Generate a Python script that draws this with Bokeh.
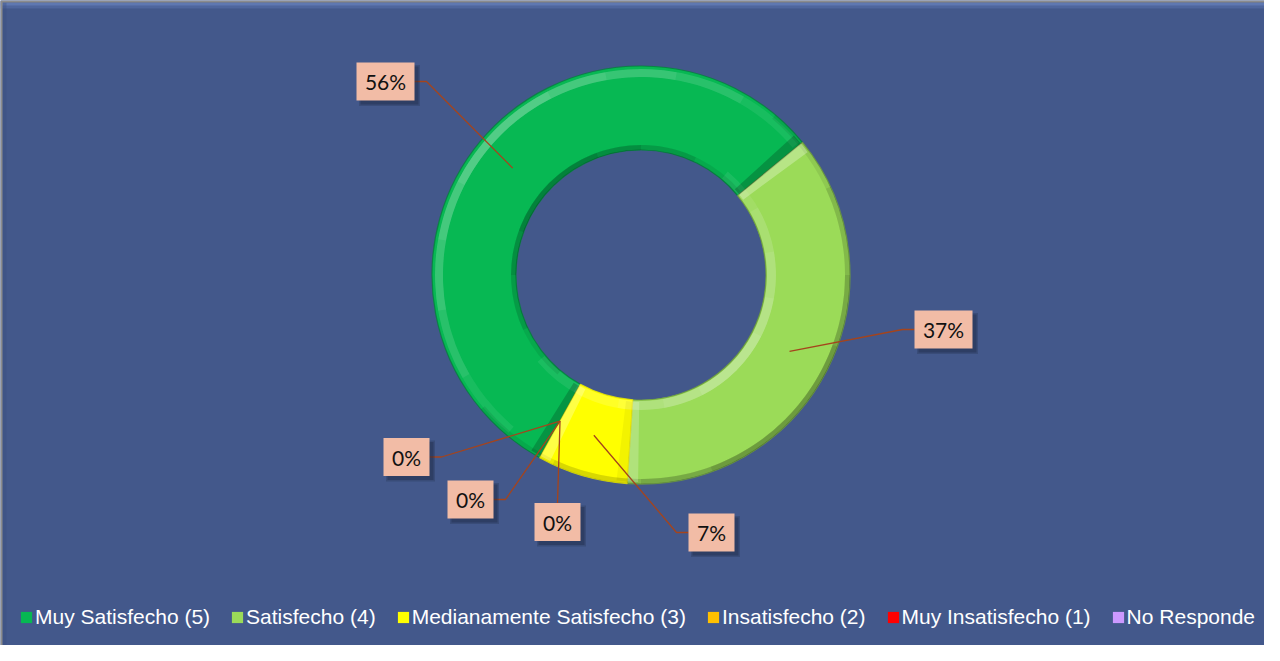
import numpy as np
from bokeh.plotting import figure
from bokeh.models import Range1d, ColumnDataSource, Legend, LegendItem
from bokeh.embed import file_html
from bokeh.resources import INLINE
from bokeh.core.properties import value

# ---------------- data ----------------
categories = ["Muy Satisfecho (5)", "Satisfecho (4)", "Medianamente Satisfecho (3)",
              "Insatisfecho (2)", "Muy Insatisfecho (1)", "No Responde"]
percent = [56, 37, 7, 0, 0, 0]
colors = ["#07B853", "#9BDB58", "#FFFF00", "#FFC000", "#FF0000", "#CC99FF"]
edge_colors = ["#067F3D", "#6E9E3C", "#E8E800", "#C09000", "#B00000", "#9A70CC"]

# ---------------- layout (screen pixels) ----------------
W, H = 1264, 645
BG = "#43588B"
CX, CY = 648.5, 282.5          # donut centre (screen)
R_OUT, R_IN = 209, 125
FIRST_ANGLE = 209.0            # first slice angle, clockwise from 12 o'clock

# label boxes: centre (screen), leader side
label_pos = [(393, 89, "r"), (951, 337, "l"), (719, 540, "l"),
             (414, 464.5, "r"), (478, 507, "r"), (565, 529.5, "t")]
BOX_H = 38
ELBOW = 12


def Y(sy):
    return 661 - sy


p = figure(width=W, height=H, x_range=Range1d(8, 8 + W), y_range=Range1d(661 - 8 - H, 661 - 8),
           output_backend="svg", toolbar_location=None, min_border=0,
           x_axis_type=None, y_axis_type=None,
           background_fill_color=BG, border_fill_color=BG, outline_line_color=None)
p.grid.visible = False

# ---- frame bevel / border ----
p.quad(left=[8], right=[8 + W], bottom=[Y(16)], top=[Y(10)], fill_color="#5A73AD", fill_alpha=0.55, line_color=None)
p.quad(left=[8], right=[8 + W], bottom=[Y(13)], top=[Y(10)], fill_color="#6A84BE", fill_alpha=0.6, line_color=None)
p.quad(left=[10], right=[14], bottom=[Y(653)], top=[Y(10)], fill_color="#3A4E7E", fill_alpha=0.35, line_color=None)
p.segment(x0=[9, 8], y0=[Y(653), Y(9)], x1=[9, 8 + W], y1=[Y(9), Y(9)], line_color="#8C8C8C", line_width=2)

# ---------------- slices ----------------
vals = np.array(percent, dtype=float)
frac = vals / vals.sum()
start_cw = FIRST_ANGLE + 360 * np.concatenate([[0], np.cumsum(frac)[:-1]])
end_cw = start_cw + 360 * frac
mid_cw = (start_cw + end_cw) / 2

nz = [i for i in range(len(vals)) if vals[i] > 0]
wsrc = ColumnDataSource(dict(
    start=[np.radians(90 - end_cw[i]) for i in nz],
    end=[np.radians(90 - start_cw[i]) for i in nz],
    color=[colors[i] for i in nz],
    edge=[edge_colors[i] for i in nz],
))
p.annular_wedge(x=CX, y=Y(CY), inner_radius=R_IN, outer_radius=R_OUT,
                start_angle="start", end_angle="end", source=wsrc,
                fill_color="color", line_color="edge", line_width=1.2, line_alpha=0.8)

# ---- bevel lighting (light from upper-left) ----
LIGHT = np.array([-0.7071, 0.7071])


def rim(r0, r1, centre_deg, spans, color, alpha):
    s = [np.radians(centre_deg - h) for h in spans]
    e = [np.radians(centre_deg + h) for h in spans]
    p.annular_wedge(x=CX, y=Y(CY), inner_radius=r0, outer_radius=r1,
                    start_angle=s, end_angle=e, fill_color=color, fill_alpha=alpha, line_color=None)


rim(198, 206, 135, [95, 75, 55, 35, 18], "white", 0.07)
rim(204, 209, -45, [95, 70, 45, 25], "black", 0.08)
rim(126, 135, -45, [95, 75, 55, 35, 18], "white", 0.08)
rim(125, 130, 135, [95, 70, 45, 25], "black", 0.08)

# radial edge bevels of every slice
ew = 3.0
es, ee, ec, ea = [], [], [], []
for i in nz:
    for th, sgn in ((start_cw[i], -1), (end_cw[i], 1)):
        t = np.radians(th)
        tang = sgn * np.array([np.cos(t), -np.sin(t)])   # outward normal of the edge face
        d = float(tang @ LIGHT)
        if sgn < 0:
            a0, a1 = th, th + ew
        else:
            a0, a1 = th - ew, th
        es.append(np.radians(90 - a1)); ee.append(np.radians(90 - a0))
        ec.append("white" if d > 0 else "black")
        ea.append(0.28 * abs(d) if d > 0 else 0.2 * abs(d) * (0.3 if colors[i] == "#FFFF00" else 1))
p.annular_wedge(x=CX, y=Y(CY), inner_radius=R_IN + 2, outer_radius=R_OUT - 2,
                start_angle=es, end_angle=ee, fill_color=ec, fill_alpha=ea, line_color=None)

# ---------------- labels ----------------
r_mid = (R_IN + R_OUT) / 2
ax = CX + r_mid * np.sin(np.radians(mid_cw))
ay = CY - r_mid * np.cos(np.radians(mid_cw))
texts = ["%d%%" % v for v in percent]

xs, ys = [], []
bx, by, bw = [], [], []
for i, (lx, ly, side) in enumerate(label_pos):
    w = 22 + 12 * len(texts[i])
    bx.append(lx); by.append(Y(ly)); bw.append(w)
    if side == "r":
        ex = lx + w / 2
        xs.append([ax[i], ex + ELBOW, ex]); ys.append([Y(ay[i]), Y(ly), Y(ly)])
    elif side == "l":
        ex = lx - w / 2
        xs.append([ax[i], ex - ELBOW, ex]); ys.append([Y(ay[i]), Y(ly), Y(ly)])
    else:
        xs.append([ax[i], lx]); ys.append([Y(ay[i]), Y(ly - BOX_H / 2)])

p.multi_line(xs=xs, ys=ys, line_color="#A5441C", line_width=1.3)

lsrc = ColumnDataSource(dict(x=bx, y=by, w=bw, t=texts,
                             sx=[v + 4 for v in bx], sy=[v - 4 for v in by],
                             sw=[v + 3 for v in bw]))
p.rect(x="sx", y="sy", width="sw", height=BOX_H + 3, source=lsrc, fill_color="#1B2640", fill_alpha=0.25, line_color=None)
p.rect(x="sx", y="sy", width="w", height=BOX_H, source=lsrc, fill_color="#1B2640", fill_alpha=0.35, line_color=None)
p.rect(x="x", y="y", width="w", height=BOX_H, source=lsrc, fill_color="#F2BCA6", line_color=None)
p.text(x="x", y="y", text="t", source=lsrc, text_align="center", text_baseline="middle",
       text_font=value("Lato"), text_font_size="21px", text_color="#111111")

# ---------------- legend ----------------
proxy = ColumnDataSource(dict(l=[np.nan] * 6, r=[np.nan] * 6, b=[np.nan] * 6, t=[np.nan] * 6, c=colors))
pr = p.quad(left="l", right="r", bottom="b", top="t", fill_color="c", line_color=None, source=proxy)
items = [LegendItem(label=categories[i], renderers=[pr], index=i) for i in range(6)]
legend = Legend(items=items, orientation="horizontal", location=(19, 16),
                glyph_width=14, glyph_height=14, label_standoff=2, spacing=20,
                padding=0, margin=0, background_fill_alpha=0, border_line_color=None,
                label_text_font="Liberation Sans", label_text_font_size="21px",
                label_text_color="white")
p.add_layout(legend)

open("out.html", "w").write(file_html(p, INLINE))
